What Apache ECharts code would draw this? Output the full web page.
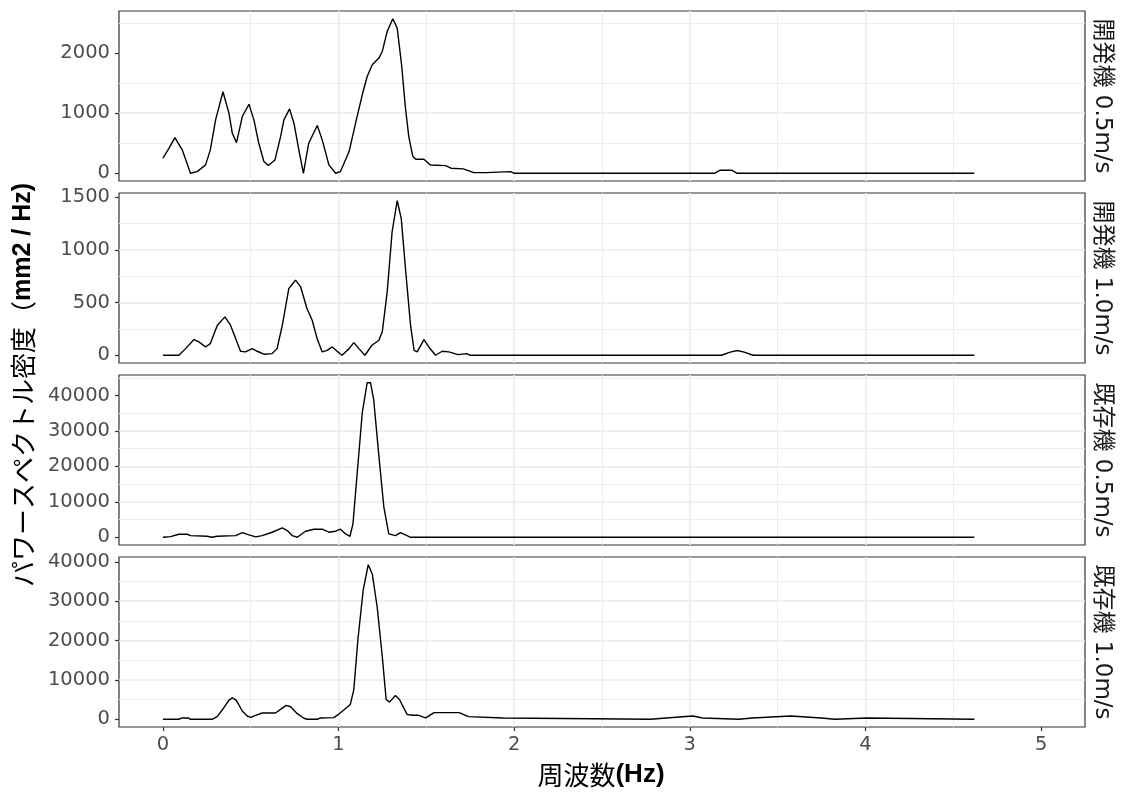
<!DOCTYPE html>
<html><head><meta charset="utf-8">
<script src="https://cdn.jsdelivr.net/npm/echarts@6/dist/echarts.min.js"></script>
<style>html,body{margin:0;padding:0;background:#fff}#c{width:1126px;height:798px}</style>
</head><body><div id="c"></div>
<script>
// ---- data ----
const freq1 = [0,0.035,0.068,0.11,0.157,0.195,0.243,0.27,0.30,0.342,0.376,0.395,0.419,0.452,0.49,0.518,0.546,0.575,0.60,0.638,0.67,0.689,0.721,0.746,0.774,0.80,0.83,0.879,0.907,0.945,0.983,1.011,1.06,1.097,1.135,1.163,1.192,1.23,1.249,1.277,1.309,1.334,1.36,1.38,1.40,1.423,1.44,1.486,1.523,1.61,1.64,1.71,1.77,1.84,1.85,1.98,2.0,3.02,3.03,3.05,3.14,3.17,3.24,3.27,4.62];
const psd1  = [250,420,595,390,0,28,140,390,890,1357,1000,667,511,945,1150,890,500,195,128,222,611,890,1073,834,389,0,500,795,556,139,0,28,361,834,1307,1612,1807,1918,2029,2363,2574,2418,1779,1112,611,278,233,233,139,128,84,73,11,11,28,28,0,0,20,0,0,50,50,0,0];

const freq2 = [0,0.091,0.129,0.177,0.205,0.243,0.27,0.31,0.353,0.385,0.414,0.442,0.47,0.509,0.537,0.575,0.622,0.65,0.68,0.717,0.755,0.784,0.82,0.85,0.878,0.907,0.935,0.964,0.992,1.02,1.06,1.087,1.116,1.15,1.19,1.23,1.249,1.277,1.305,1.334,1.357,1.381,1.41,1.43,1.448,1.486,1.514,1.552,1.59,1.628,1.68,1.73,1.75,3.18,3.23,3.27,3.31,3.36,4.62];
const psd2  = [0,0,63,149,127,79,111,285,364,285,158,38,32,63,38,10,16,63,285,633,712,649,443,332,158,32,47,79,38,0,63,120,63,0,95,142,222,601,1171,1465,1298,823,285,47,32,149,79,0,38,32,6,16,0,0,30,45,30,0,0];

const freq3 = [0,0.044,0.091,0.139,0.157,0.252,0.28,0.309,0.414,0.452,0.49,0.528,0.565,0.622,0.68,0.708,0.736,0.765,0.812,0.86,0.907,0.945,0.983,1.011,1.04,1.065,1.082,1.106,1.135,1.163,1.182,1.2,1.23,1.258,1.286,1.324,1.353,1.381,1.41,4.62];
const psd3  = [0,190,853,853,474,284,0,284,474,1327,664,95,474,1422,2654,1896,474,0,1706,2275,2275,1422,1706,2275,948,284,3792,18012,35076,43608,43608,38868,22752,8532,948,474,1327,664,0,0];

const freq4 = [0,0.091,0.11,0.144,0.157,0.28,0.309,0.347,0.376,0.395,0.417,0.452,0.48,0.5,0.528,0.565,0.641,0.67,0.702,0.727,0.765,0.803,0.822,0.879,0.898,0.973,1.0,1.03,1.067,1.087,1.11,1.14,1.169,1.192,1.22,1.249,1.271,1.29,1.324,1.347,1.39,1.42,1.456,1.496,1.544,1.686,1.74,1.937,1.948,2.777,2.788,2.865,2.876,3.017,3.072,3.083,3.28,3.29,3.356,3.367,3.574,3.585,3.749,3.76,3.825,3.836,4.01,4.02,4.62];
const psd4  = [0,0,336,336,0,0,671,2937,4866,5454,4866,2098,839,503,1007,1594,1594,2517,3524,3188,1426,252,0,0,336,420,1259,2349,3776,7551,20136,32721,39265,36916,28526,15941,5034,4363,6041,5034,1259,1007,1007,336,1678,1678,671,336,0,0,336,336,839,839,336,0,0,336,336,839,839,336,336,0,0,336,336,0,0];

const xTicks  = [0, 1, 2, 3, 4, 5];
const yTicks1 = [0, 1000, 2000];
const yTicks2 = [0, 500, 1000, 1500];
const yTicks3 = [0, 10000, 20000, 30000, 40000];
const yTicks4 = [0, 10000, 20000, 30000, 40000];
const stripLabels = ['開発機 0.5m/s', '開発機 1.0m/s', '既存機 0.5m/s', '既存機 1.0m/s'];
const xTitleMain = '周波数';
const xTitleUnit = '(Hz)';
const yTitleMain = 'パワースペクトル密度（';
const yTitleUnit = 'mm2 / Hz)';

// ---- layout / style ----
const freqs = [freq1, freq2, freq3, freq4];
const psds = [psd1, psd2, psd3, psd4];
const yTicks = [yTicks1, yTicks2, yTicks3, yTicks4];
const tops = [11, 193, 375, 557];
const H = 170, LEFT = 119, RIGHT = 41;
const tickFont = 'DejaVu Sans';
const cjk = '"Noto Sans CJK JP"';
const gridMajor = {color: '#ebebeb', width: 1.6};
const gridMinor = {color: '#ededed', width: 1.0};

const grids = [], xAxes = [], yAxes = [], series = [], graphics = [];
for (let i = 0; i < 4; i++) {
  grids.push({left: LEFT, right: RIGHT, top: tops[i], height: H, show: true,
    borderColor: '#333333', borderWidth: 1.2, backgroundColor: 'rgba(0,0,0,0)'});
  const last = i === 3;
  xAxes.push({
    gridIndex: i, type: 'value', min: -0.25, max: 5.25, minInterval: 1, maxInterval: 1,
    axisLine: {show: false, onZero: false},
    axisTick: {show: last, length: 4, lineStyle: {color: '#333333', width: 1.2}, customValues: xTicks},
    axisLabel: {show: last, customValues: xTicks, color: '#4d4d4d', fontSize: 19.5, fontFamily: tickFont,
      margin: 8, formatter: v => String(v)},
    splitLine: {show: true, showMinLine: false, showMaxLine: false, lineStyle: gridMajor},
    minorTick: {show: false, splitNumber: 2},
    minorSplitLine: {show: true, lineStyle: gridMinor}
  });
  const mx = Math.max(...psds[i]);
  const step = yTicks[i][1] - yTicks[i][0];
  yAxes.push({
    gridIndex: i, type: 'value', min: -0.05 * mx, max: 1.05 * mx, minInterval: step, maxInterval: step,
    axisLine: {show: false, onZero: false},
    axisTick: {show: true, length: 4, lineStyle: {color: '#333333', width: 1.2}, customValues: yTicks[i]},
    axisLabel: {customValues: yTicks[i], color: '#4d4d4d', fontSize: 19.5, fontFamily: tickFont,
      margin: 9, formatter: v => String(v)},
    splitLine: {show: true, showMinLine: false, showMaxLine: false, lineStyle: gridMajor},
    minorTick: {show: false, splitNumber: 2},
    minorSplitLine: {show: true, lineStyle: gridMinor}
  });
  series.push({
    type: 'line', xAxisIndex: i, yAxisIndex: i,
    data: freqs[i].map((f, k) => [f, psds[i][k]]),
    showSymbol: false, symbol: 'none', silent: true,
    lineStyle: {color: '#000000', width: 1.4}
  });
  graphics.push({
    type: 'text', x: 1102, y: tops[i] + H / 2, rotation: -Math.PI / 2,
    style: {text: stripLabels[i], fill: '#1a1a1a', fontSize: 23,
      fontFamily: tickFont + ', ' + cjk, align: 'center', verticalAlign: 'middle'}
  });
}
graphics.push({
  type: 'text', x: 601, y: 775,
  style: {text: '{a|' + xTitleMain + '}{b|' + xTitleUnit + '}', align: 'center', verticalAlign: 'middle',
    rich: {a: {fontSize: 26, fontFamily: cjk, fill: '#000'},
           b: {fontSize: 26, fontFamily: 'Liberation Sans', fontWeight: 'bold', fill: '#000'}}}
});
graphics.push({
  type: 'text', x: 23, y: 385, rotation: Math.PI / 2,
  style: {text: '{a|' + yTitleMain + '}{b|' + yTitleUnit + '}', align: 'center', verticalAlign: 'middle',
    rich: {a: {fontSize: 26, fontFamily: cjk, fill: '#000'},
           b: {fontSize: 25, fontFamily: 'Liberation Sans', fontWeight: 'bold', fill: '#000'}}}
});

const chart = echarts.init(document.getElementById('c'), null, {renderer: 'canvas'});
chart.setOption({
  animation: false, backgroundColor: '#ffffff',
  grid: grids, xAxis: xAxes, yAxis: yAxes, series: series, graphic: graphics
});
</script></body></html>
